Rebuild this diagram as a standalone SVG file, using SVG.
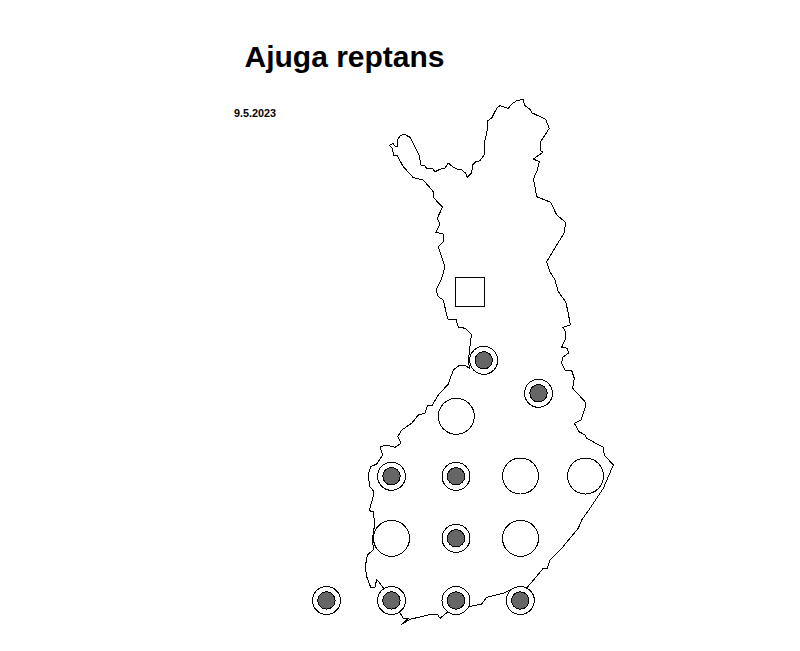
<svg xmlns="http://www.w3.org/2000/svg" width="800" height="651" viewBox="0 0 800 651">
<style>
.t{font-family:"Liberation Sans",Arial,sans-serif;font-weight:bold;fill:#000}
.o{fill:none;stroke:#000;stroke-width:1;stroke-linejoin:round;shape-rendering:crispEdges}
.e{fill:#fff;stroke:#000;stroke-width:1;shape-rendering:crispEdges}
.f{fill:#666;stroke:#000;stroke-width:1;shape-rendering:crispEdges}
</style>
<rect width="800" height="651" fill="#fff"/>
<text class="t" x="244.5" y="67" font-size="30">Ajuga reptans</text>
<text class="t" x="234" y="117" font-size="10.8">9.5.2023</text>
<path class="o" d="M389.3 145.7L392.7 143.3L395.7 146.7L398 146.7L397.3 140L400 136L404 134L410 137.3L413.3 143.3L419.3 156L421.3 166L424 165L426.7 168.3L432.7 168.7L435 171.7L440 169.3L445 168L448.3 163L452.7 166.7L456.7 169L461.7 170L465.7 173.3L467.3 177.3L471.7 172.7L472.7 165L476 161.7L480 160.7L484 155L485 140L487.3 130L487.7 120.7L491.7 118L496.7 108.3L500 105.7L508.3 108.3L511.7 104L516.7 100.7L523.3 99.3L524.3 105L530 109.3L531.7 112.7L545.7 119.3L549.3 128.3L545 135L540.7 141.7L540.7 151L543.3 152L533.3 159L539.3 161.7L537.3 170L533.3 179.3L535 186.7L536.7 196.7L550.7 202.3L556.7 215L565 221.7L565.7 223.3L564 233.3L556.7 245L546.7 261.7L550 271.7L555 280L558.3 291.7L565.7 301.7L568.3 313.3L570.3 325L562.7 327.3L565.7 331.7L565 340L561.7 347.3L567.7 348.3L568.3 353.3L562.7 357.3L561.7 363.3L565 370L571.7 370.7L574.3 378.3L572.7 388.3L585 401.7L585 408.3L581 420L574.3 423.3L579 431.7L585 435L586.7 438.3L603.3 447.3L604.3 455L613.3 465L603.3 488.3L590 508.3L581.7 520L578.3 528.3L561.7 548.3L550 560L547.3 568.3L543.3 568.3L527.3 587.3L513.3 588.3L503.3 593.3L486.7 597.3L481.7 604L471.7 606L446.7 612.7L440 618.3L437.3 614L428.3 615L410 619.3L401.7 624.3L408.3 618.3L403.3 618.3L399.3 611.7L385 590L376.7 579.3L375 587.3L370.7 587.3L366.7 576.7L365.3 566.7L367.3 555L373.3 550L372.7 540L373.3 530L375 526.7L373.3 511.7L369.3 510.7L372.7 498.3L374 491.7L370 486.7L368 475L370.7 466.7L376.7 464L382.7 455L380 446.7L386.7 445.3L395 447.3L401 443.3L397.7 436.7L401.7 430L411.7 423.3L418.3 415L425 413.3L427.3 405.7L431.7 406L438.3 395L448.3 384L453.3 370L460 365L465 365L470 369L468.3 361.7L469.3 351.7L470.7 340L471.7 335L465 328.3L458.3 327L456 319.3L448.3 320L446.7 315L443.3 300L438.3 296.7L436 290L441.7 278.3L445 266.7L438.3 246.7L443.3 241.7L443.3 234L435.7 232.3L440 224L437.3 218.3L442.5 207L437.3 201.7L433.3 197.3L433.3 191.7L423.3 180L413.3 177.7L403.3 166.7L396.7 155L393.3 155L392.7 148.3Z"/>
<rect id="square" class="o" x="455.5" y="277.5" width="29" height="29"/>
<g id="large-circles">
<circle class="e" cx="456.3" cy="416.3" r="18"/>
<circle class="e" cx="520.5" cy="476" r="18"/>
<circle class="e" cx="585.5" cy="476" r="18"/>
<circle class="e" cx="391.5" cy="538.3" r="18"/>
<circle class="e" cx="520.5" cy="538.3" r="18"/>
</g>
<g id="markers">
<g><circle class="e" cx="483.7" cy="360.3" r="14"/><circle class="f" cx="483.7" cy="360.3" r="8.7"/></g>
<g><circle class="e" cx="538.5" cy="393.3" r="14"/><circle class="f" cx="538.5" cy="393.3" r="8.7"/></g>
<g><circle class="e" cx="391.5" cy="476.3" r="14"/><circle class="f" cx="391.5" cy="476.3" r="8.7"/></g>
<g><circle class="e" cx="456" cy="476.3" r="14"/><circle class="f" cx="456" cy="476.3" r="8.7"/></g>
<g><circle class="e" cx="456" cy="538.3" r="14"/><circle class="f" cx="456" cy="538.3" r="8.7"/></g>
<g><circle class="e" cx="326.5" cy="600.5" r="14"/><circle class="f" cx="326.5" cy="600.5" r="8.7"/></g>
<g><circle class="e" cx="391.5" cy="600.5" r="14"/><circle class="f" cx="391.5" cy="600.5" r="8.7"/></g>
<g><circle class="e" cx="456" cy="600.5" r="14"/><circle class="f" cx="456" cy="600.5" r="8.7"/></g>
<g><circle class="e" cx="520.3" cy="600.5" r="14"/><circle class="f" cx="520.3" cy="600.5" r="8.7"/></g>
</g>
</svg>
